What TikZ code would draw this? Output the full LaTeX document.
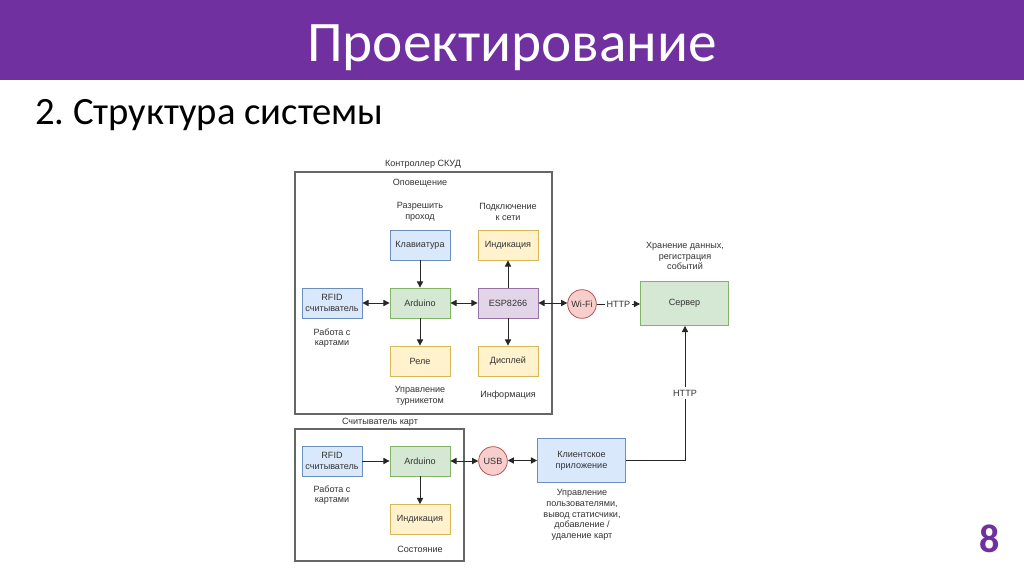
\documentclass[tikz,border=0pt]{standalone}
\usepackage{fontspec}
\setmainfont{Carlito}
\newfontfamily\dsans{Liberation Sans}
\usetikzlibrary{arrows.meta}
\definecolor{hdr}{HTML}{7030A0}
\definecolor{bF}{HTML}{DAE8FC}\definecolor{bD}{HTML}{6C8EBF}
\definecolor{gF}{HTML}{D5E8D4}\definecolor{gD}{HTML}{82B366}
\definecolor{yF}{HTML}{FFF2CC}\definecolor{yD}{HTML}{D6B656}
\definecolor{pF}{HTML}{E1D5E7}\definecolor{pD}{HTML}{9673A6}
\definecolor{rF}{HTML}{F8CECC}\definecolor{rD}{HTML}{B85450}
\definecolor{txt}{HTML}{333333}
\newcommand\diag{\dsans\fontsize{6.8}{8}\selectfont}
\tikzset{
  box/.style={draw, line width=0.6pt, minimum width=45pt, minimum height=22.5pt, font=\diag, text=txt, inner sep=1pt, align=center},
  bbox/.style={box, fill=bF, draw=bD},
  gbox/.style={box, fill=gF, draw=gD},
  ybox/.style={box, fill=yF, draw=yD},
  pbox/.style={box, fill=pF, draw=pD},
  wbox/.style={box, minimum width=66pt, minimum height=33pt},
  circ/.style={circle, draw=rD, fill=rF, line width=0.6pt, minimum size=21.5pt, inner sep=0pt, font=\diag, text=txt},
  lbl/.style={font=\diag, text=txt, align=center, inner sep=0pt},
  frame/.style={draw=black!60, line width=0.9pt},
  tip/.tip={Triangle[length=4.6pt,width=4.6pt]},
  arr/.style={-tip, draw=black!85, line width=0.75pt},
  both/.style={tip-tip, draw=black!85, line width=0.75pt},
}
\begin{document}
\begin{tikzpicture}[x=0.75pt,y=-0.75pt]
\useasboundingbox (0,0) rectangle (1024,574);
\fill[white] (0,0) rectangle (1024,574);
\fill[hdr] (0,0) rectangle (1024,80);
\node[anchor=base, text=white, font=\fontsize{43}{50}\selectfont, inner sep=0pt] (title) at (512,62) {Проектирование};
\node[anchor=base west, font=\fontsize{29}{33}\selectfont, inner sep=0pt] (sub) at (35,125) {\frenchspacing 2. Структура системы};
\node[anchor=base, text=hdr, font=\bfseries\fontsize{30}{34}\selectfont, inner sep=0pt] (pg) at (990,552) {8};

% frames
\draw[frame] (295,172) rectangle (552,414);
\node[lbl] (lctl) at (423,164) {Контроллер СКУД};
\draw[frame] (295,429) rectangle (464,561);
\node[lbl] (lrd) at (380,422) {Считыватель карт};

% labels
\node[lbl] (l1) at (420,183) {Оповещение};
\node[lbl] (l2) at (420,212) {Разрешить\\проход};
\node[lbl] (l3) at (508,212) {Подключение\\к сети};
\node[lbl] (l4) at (332,338) {Работа с\\картами};
\node[lbl] (l5) at (420,396) {Управление\\турникетом};
\node[lbl] (l6) at (508,395) {Информация};
\node[lbl] (l7) at (685,256) {Хранение данных,\\регистрация\\событий};
\node[lbl] (l8) at (332,495) {Работа с\\картами};
\node[lbl] (l9) at (420,549) {Состояние};
\node[lbl] (l10) at (582,515) {Управление\\пользователями,\\вывод статисчики,\\добавление /\\удаление карт};

% nodes
\node[bbox] (klav) at (420,245) {Клавиатура};
\node[ybox] (ind1) at (508,245) {Индикация};
\node[bbox] (rfid1) at (332,303) {RFID\\считыватель};
\node[gbox] (ard1) at (420,303) {Arduino};
\node[pbox] (esp) at (508,303) {ESP8266};
\node[ybox] (rele) at (420,361) {Реле};
\node[ybox] (disp) at (508,361) {Дисплей};
\node[circ] (wifi) at (582,304) {Wi-Fi};
\node[gbox, wbox] (srv) at (684.5,303.5) {Сервер};

\node[bbox] (rfid2) at (332,461) {RFID\\считыватель};
\node[gbox] (ard2) at (420,461) {Arduino};
\node[ybox] (ind2) at (420,519.5) {Индикация};
\node[circ] (usb) at (493,461) {USB};
\node[bbox, wbox] (cli) at (581.5,460.5) {Клиентское\\приложение};

% connectors
\draw[arr] (klav) -- (ard1);
\draw[arr] (ard1) -- (rele);
\draw[arr] (esp) -- (ind1);
\draw[arr] (esp) -- (disp);
\draw[both] (rfid1) -- (ard1);
\draw[both] (ard1) -- (esp);
\draw[both] (esp.east) -- (wifi.west |- esp.east);
\draw[arr] (wifi.east) -- node[lbl, fill=white, inner xsep=1pt] (h1) {HTTP} (srv.west |- wifi.east);
\draw[arr] (rfid2) -- (ard2);
\draw[arr] (ard2) -- (ind2);
\draw[both] (ard2.east) -- (usb.west |- ard2.east);
\draw[both] (usb.east |- cli.west) -- (cli.west);
\coordinate (corner) at (685,460.5);
\draw[arr] (cli.east) -- (corner) -- node[lbl, fill=white, inner ysep=2pt] (h2) {HTTP} (srv.south -| corner);
\end{tikzpicture}
\end{document}
